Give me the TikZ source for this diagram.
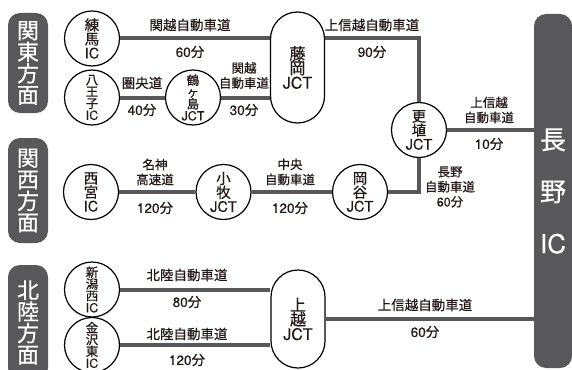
\documentclass[tikz,border=0pt]{standalone}
\usepackage{fontspec}
\setmainfont{Noto Sans CJK JP}[FakeBold=0.5]
\newfontfamily\heros{TeX Gyre Heros}[FakeBold=0.3]
\newcommand{\hv}[1]{{\heros #1}}
\usepackage{tikz}
\usetikzlibrary{calc,positioning,shapes}
\definecolor{roadgray}{HTML}{58585A}
\definecolor{inkblack}{HTML}{231815}
\tikzstyle{every node}=[line width=1pt]

\begin{document}
\begin{tikzpicture}[x=1pt, y=-1pt]
      \tikzstyle{icnode} = [draw=black, circle, fill=white, line width=1.2pt, minimum size=55pt, inner sep=0pt, align=center, text=inkblack, font=\fontsize{14.5}{14}\selectfont]
      \tikzstyle{smallic} = [icnode, font=\fontsize{12.5}{11.8}\selectfont]
      \tikzstyle{jctnode} = [draw=black, rectangle, rounded corners=27pt, fill=white, line width=1.2pt, minimum width=54pt, inner sep=0pt, align=center, text=inkblack, font=\fontsize{16}{14.5}\selectfont]
      \tikzstyle{areanode} = [fill=roadgray, rectangle, rounded corners=12pt, minimum width=40pt, inner sep=0pt, text=white, align=center, font=\fontsize{22}{21.5}\selectfont]
      \tikzstyle{road} = [draw=roadgray, line width=4pt]
      \tikzstyle{lbl} = [text=inkblack, inner sep=0pt, align=center, font=\fontsize{13.5}{15.5}\selectfont]
      \tikzstyle{lbltwo} = [lbl, font=\fontsize{12.5}{15}\selectfont]

      \useasboundingbox (0,0) rectangle (572,369);

      % areas
      \node[areanode, minimum height=100pt] (kanto) at (28, 63) {関\\東\\方\\面};
      \node[areanode, minimum height=105pt] (kansai) at (28, 190.5) {関\\西\\方\\面};
      \node[areanode, minimum height=115pt] (hokuriku) at (28, 322.5) {北\\陸\\方\\面};
      \node[areanode, minimum width=38pt, minimum height=354pt, font=\fontsize{26}{52}\selectfont] (nagano) at (553, 191) {長\\野\\\hv{IC}};

      % interchanges
      \node[icnode] (nerima) at (92, 38.5) {練\\馬\\\hv{IC}};
      \node[smallic] (hachioji) at (92, 97.5) {八\\王\\子\\\hv{IC}};
      \node[smallic] (tsuru) at (193, 97.5) {鶴\\ヶ\\島\\\hv{JCT}};
      \node[jctnode, minimum height=111pt] (fujioka) at (297.5, 67.5) {藤\\岡\\\hv{JCT}};
      \node[icnode] (koshoku) at (419, 130) {更\\埴\\\hv{JCT}};

      \node[icnode] (nishinomiya) at (91, 192) {西\\宮\\\hv{IC}};
      \node[icnode] (komaki) at (223.5, 192) {小\\牧\\\hv{JCT}};
      \node[icnode] (okaya) at (360, 192) {岡\\谷\\\hv{JCT}};

      \node[smallic] (niigata) at (92, 289.5) {新\\潟\\西\\\hv{IC}};
      \node[smallic] (kanazawa) at (92, 345) {金\\沢\\東\\\hv{IC}};
      \node[jctnode, minimum height=98pt] (joetsu) at (298, 319) {上\\越\\\hv{JCT}};

      % roads
      \draw[road] (nerima) -- (nerima -| fujioka.west);
      \draw[road] (hachioji) -- (tsuru);
      \draw[road] (tsuru) -- (tsuru -| fujioka.west);
      \draw[road] (fujioka.east |- nerima) -| (koshoku);
      \draw[road] (koshoku) -- (koshoku -| nagano.west);
      \draw[road] (nishinomiya) -- (komaki);
      \draw[road] (komaki) -- (okaya);
      \draw[road] (okaya) -| (koshoku);
      \draw[road] (niigata) -- (niigata -| joetsu.west);
      \draw[road] (kanazawa) -- (kanazawa -| joetsu.west);
      \draw[road] (joetsu) -- (joetsu -| nagano.west);

      % road names and times
      \node[lbl] (kan1) at (190, 25) {関越自動車道};
      \node[lbl] (kan1t) at (190, 52) {\hv{60}分};
      \node[lbl] (ken) at (142, 83) {圏央道};
      \node[lbl] (kent) at (142, 110) {\hv{40}分};
      \node[lbltwo] (kan2) at (244, 75.5) {関越\\自動車道};
      \node[lbl] (kan2t) at (244, 110) {\hv{30}分};
      \node[lbl] (jsh1) at (372, 25) {上信越自動車道};
      \node[lbl] (jsh1t) at (372, 52) {\hv{90}分};
      \node[lbltwo] (jsh2) at (489, 110) {上信越\\自動車道};
      \node[lbl] (jsh2t) at (489, 144) {\hv{10}分};
      \node[lbltwo] (ngn) at (450, 187) {長野\\自動車道\\\hv{60}分};
      \node[lbltwo] (mei) at (155, 172) {名神\\高速道};
      \node[lbl] (meit) at (155, 208) {\hv{120}分};
      \node[lbltwo] (chuo) at (290, 172) {中央\\自動車道};
      \node[lbl] (chuot) at (290, 208) {\hv{120}分};
      \node[lbl] (hok1) at (187, 275) {北陸自動車道};
      \node[lbl] (hok1t) at (187, 302) {\hv{80}分};
      \node[lbl] (hok2) at (187, 334) {北陸自動車道};
      \node[lbl] (hok2t) at (187, 360) {\hv{120}分};
      \node[lbl] (jsh3) at (425, 305) {上信越自動車道};
      \node[lbl] (jsh3t) at (425, 332) {\hv{60}分};
\end{tikzpicture}
\end{document}
